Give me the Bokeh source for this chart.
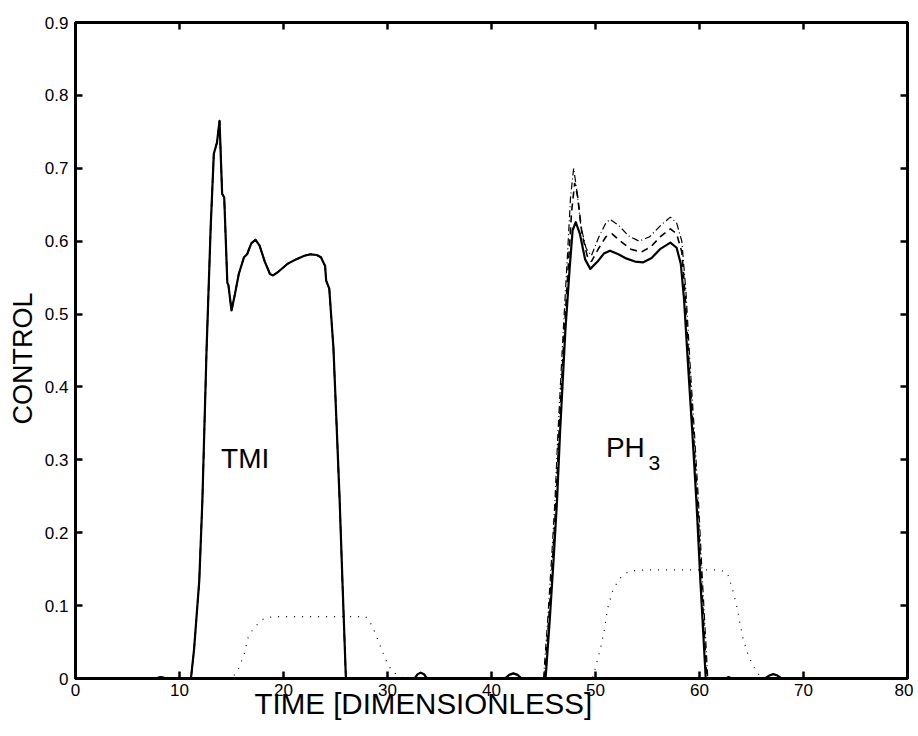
from bokeh.plotting import figure
from bokeh.models import Label, LinearAxis, FixedTicker, Range1d, Title
from bokeh.embed import file_html
from bokeh.resources import INLINE

# ---------------- data ----------------
x_ticks = [0, 10, 20, 30, 40, 50, 60, 70, 80]
y_ticks = [0, 0.1, 0.2, 0.3, 0.4, 0.5, 0.6, 0.7, 0.8, 0.9]
y_tick_labels = ["0", "0.1", "0.2", "0.3", "0.4", "0.5", "0.6", "0.7", "0.8", "0.9"]

# TMI pulse (all three control curves coincide here)
tmi_time = [0, 7.6, 8.2, 8.8, 11.1, 11.4, 11.9, 12.2, 12.6, 13.0, 13.3, 13.6, 13.85,
            14.1, 14.3, 14.6, 14.7, 15.0, 15.3, 15.7, 16.2, 16.5, 16.9, 17.3, 17.7,
            18.2, 18.7, 19.0, 19.5, 20.4, 21.2, 22.0, 22.6, 23.2, 23.6, 24.0, 24.1,
            24.4, 24.8, 25.1, 25.4, 25.7, 26.0, 32.6, 32.9, 33.2, 33.5, 33.8,
            41.3, 41.7, 42.1, 42.5, 42.9]
tmi_control = [0, 0, 0.002, 0, 0, 0.04, 0.134, 0.244, 0.45, 0.62, 0.72, 0.735, 0.765,
               0.665, 0.66, 0.543, 0.54, 0.505, 0.525, 0.555, 0.578, 0.582, 0.597, 0.602, 0.594,
               0.572, 0.555, 0.553, 0.558, 0.569, 0.575, 0.580, 0.582, 0.581, 0.578, 0.566, 0.546,
               0.535, 0.454, 0.35, 0.244, 0.12, 0, 0, 0.006, 0.008, 0.006, 0,
               0, 0.005, 0.007, 0.005, 0]

# PH3 pulse, three control curves
ph3_time_solid = [45.2, 45.6, 46.0, 46.3, 46.6, 47.1, 47.5, 47.8, 48.1, 48.5, 49.0, 49.5,
                  50.2, 50.8, 51.4, 52.2, 53.0, 53.8, 54.6, 55.4, 56.2, 57.2, 57.8, 58.2,
                  58.5, 58.9, 59.3, 59.7, 60.1, 60.6, 62.5, 62.8, 63.1,
                  66.3, 66.7, 67.1, 67.5, 67.9, 80]
ph3_solid = [0, 0.08, 0.17, 0.244, 0.34, 0.477, 0.56, 0.615, 0.626, 0.61, 0.575, 0.562,
             0.572, 0.583, 0.587, 0.582, 0.576, 0.572, 0.571, 0.577, 0.589, 0.598, 0.591, 0.569,
             0.523, 0.43, 0.34, 0.244, 0.13, 0, 0, 0.002, 0,
             0, 0.004, 0.006, 0.004, 0, 0]

ph3_time_dashed = [45.1, 45.5, 45.9, 46.2, 46.5, 47.0, 47.4, 47.7, 48.0, 48.3, 48.7, 49.2,
                   49.6, 50.3, 51.0, 51.6, 52.4, 53.4, 54.4, 55.3, 56.3, 57.2, 57.8, 58.3,
                   58.6, 59.0, 59.4, 59.8, 60.2, 60.7, 80]
ph3_dashed = [0, 0.08, 0.17, 0.244, 0.34, 0.477, 0.57, 0.64, 0.68, 0.66, 0.61, 0.58,
              0.572, 0.59, 0.606, 0.61, 0.60, 0.589, 0.585, 0.592, 0.607, 0.617, 0.61, 0.585,
              0.53, 0.43, 0.34, 0.244, 0.13, 0, 0]

ph3_time_dashdot = [45.0, 45.4, 45.8, 46.1, 46.4, 46.9, 47.3, 47.6, 47.9, 48.2, 48.6, 49.1,
                    49.6, 50.3, 51.0, 51.4, 52.2, 53.2, 54.2, 55.2, 56.3, 57.2, 57.8, 58.3,
                    58.7, 59.1, 59.5, 59.9, 60.3, 60.8, 80]
ph3_dashdot = [0, 0.08, 0.17, 0.244, 0.34, 0.477, 0.58, 0.66, 0.70, 0.67, 0.62, 0.59,
               0.58, 0.605, 0.625, 0.63, 0.622, 0.607, 0.60, 0.606, 0.622, 0.633, 0.625, 0.60,
               0.53, 0.43, 0.34, 0.244, 0.13, 0, 0]

# dotted curve (both pulses)
dotted_time = [0, 15.0, 15.6, 16.2, 16.6, 17.0, 17.4, 18.0, 18.6, 19.5, 27.9, 28.4, 28.8,
               29.4, 30.0, 30.5, 31.1, 31.6, 49.7, 50.0, 50.5, 50.8, 51.2, 51.7, 52.4, 53.1,
               53.8, 55.0, 62.0, 62.7, 63.2, 63.6, 63.9, 64.2, 64.7, 65.4, 66.0, 80]
dotted_control = [0, 0, 0.011, 0.032, 0.056, 0.066, 0.073, 0.081, 0.084, 0.085, 0.085, 0.075, 0.063,
                  0.041, 0.02, 0.009, 0.004, 0, 0, 0.015, 0.043, 0.063, 0.098, 0.123, 0.138, 0.146,
                  0.148, 0.149, 0.149, 0.144, 0.121, 0.098, 0.075, 0.054, 0.031, 0.011, 0, 0]

solid_time = tmi_time + ph3_time_solid
solid_control = tmi_control + ph3_solid
dashed_time = tmi_time + ph3_time_dashed
dashed_control = tmi_control + ph3_dashed
dashdot_time = tmi_time + ph3_time_dashdot
dashdot_control = tmi_control + ph3_dashdot

FONT = "Liberation Sans"

p = figure(width=913, height=728, x_range=Range1d(0, 80), y_range=Range1d(0, 0.9),
           output_backend="svg", toolbar_location=None,
           min_border_left=75, min_border_right=6, min_border_top=22, min_border_bottom=50)
p.background_fill_color = "white"
p.border_fill_color = "white"
p.xgrid.visible = False
p.ygrid.visible = False
p.outline_line_color = "black"
p.outline_line_width = 3

for ax in (p.xaxis[0], p.yaxis[0]):
    ax.major_tick_in = 7
    ax.major_tick_out = 0
    ax.minor_tick_line_color = None
    ax.axis_line_width = 3
    ax.major_tick_line_width = 2.5
    ax.major_label_text_font = FONT
    ax.major_label_text_font_size = "17px"
    ax.major_label_text_color = "black"

p.xaxis.ticker = FixedTicker(ticks=x_ticks)
p.xaxis.major_label_standoff = 5
p.yaxis.ticker = FixedTicker(ticks=y_ticks)
p.yaxis.major_label_overrides = dict(zip(y_ticks, y_tick_labels))
p.yaxis.major_label_standoff = 7

top_ax = LinearAxis(ticker=FixedTicker(ticks=x_ticks), major_label_text_font_size="1px",
                    major_label_overrides={t: "" for t in x_ticks},
                    major_label_standoff=0, major_tick_in=7, major_tick_out=0,
                    minor_tick_line_color=None, axis_line_width=3, major_tick_line_width=2.5)
right_ax = LinearAxis(ticker=FixedTicker(ticks=y_ticks), major_label_text_font_size="1px",
                      major_label_overrides={t: "" for t in y_ticks},
                      major_label_standoff=0, major_tick_in=7, major_tick_out=0,
                      minor_tick_line_color=None, axis_line_width=3, major_tick_line_width=2.5)
p.add_layout(top_ax, "above")
p.add_layout(right_ax, "right")

p.add_layout(Title(text="TIME [DIMENSIONLESS]", align="left", offset=179, standoff=-28,
                   text_font=FONT, text_font_size="29.5px", text_font_style="normal",
                   text_color="black"), "below")
p.add_layout(Title(text="CONTROL", align="left", offset=254, standoff=8,
                   text_font=FONT, text_font_size="27px", text_font_style="normal",
                   text_color="black"), "left")

p.line(dotted_time, dotted_control, line_color="black", line_width=1.2, line_dash="1 7")
p.line(dashdot_time, dashdot_control, line_color="black", line_width=1.2, line_dash="7 3 1 3")
p.line(dashed_time, dashed_control, line_color="black", line_width=1.6, line_dash="7 5")
p.line(solid_time, solid_control, line_color="black", line_width=2.2, line_join="round")

p.add_layout(Label(x=14.0, y=0.302, text="TMI", text_font=FONT, text_font_size="28px",
                   text_color="black", text_baseline="alphabetic", text_align="left"))
p.add_layout(Label(x=51.0, y=0.317, text="PH", text_font=FONT, text_font_size="28px",
                   text_color="black", text_baseline="alphabetic", text_align="left"))
p.add_layout(Label(x=55.1, y=0.296, text="3", text_font=FONT, text_font_size="21px",
                   text_color="black", text_baseline="alphabetic", text_align="left"))

open("out.html", "w").write(file_html(p, INLINE))
